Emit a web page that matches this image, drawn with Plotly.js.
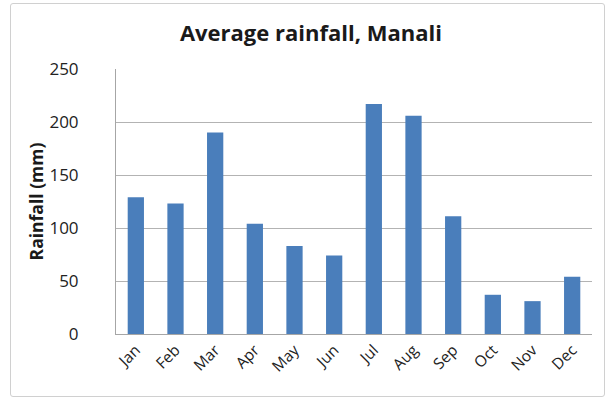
<!DOCTYPE html>
<html>
<head>
<meta charset="utf-8">
<script src="https://cdn.plot.ly/plotly-3.0.1.min.js"></script>
<style>
html,body{margin:0;padding:0;background:#fff;}
#wrap{position:relative;width:612px;height:403px;}
#chart{width:612px;height:403px;}
#frame{position:absolute;left:10px;top:3px;width:595px;height:394px;border:1.5px solid #d0d0d0;border-radius:3px;pointer-events:none;box-sizing:border-box;}
</style>
</head>
<body>
<div id="wrap"><div id="chart"></div><div id="frame"></div></div>
<script>
const months = ["Jan","Feb","Mar","Apr","May","Jun","Jul","Aug","Sep","Oct","Nov","Dec"];
const rainfall = [129, 123, 190, 104, 83, 74, 217, 206, 111, 37, 31, 54];
const yTicks = [0, 50, 100, 150, 200, 250];

const trace = {
  type: 'bar',
  x: months,
  y: rainfall,
  marker: {color: '#4a7ebb'},
  hoverinfo: 'x+y'
};

const layout = {
  width: 612, height: 403,
  margin: {l: 116, r: 20, t: 69, b: 69},
  paper_bgcolor: '#fff',
  plot_bgcolor: '#fff',
  bargap: 0.59,
  showlegend: false,
  font: {family: 'Open Sans, sans-serif', color: '#222'},
  title: {
    text: '<b>Average rainfall, Manali</b>',
    font: {size: 22, color: '#1a1a1a', family: 'Open Sans, sans-serif'},
    x: 0.508, xanchor: 'center', y: 0.918, yanchor: 'middle'
  },
  xaxis: {
    tickangle: -45,
    tickfont: {size: 15.5, color: '#222'},
    showline: true, linecolor: '#a6a6a6', linewidth: 1,
    showgrid: false, ticks: '', fixedrange: true
  },
  yaxis: {
    range: [0, 250],
    tickvals: yTicks,
    tickfont: {size: 17, color: '#222'},
    showline: true, linecolor: '#a6a6a6', linewidth: 1,
    showgrid: true, gridcolor: '#b3b3b3', gridwidth: 1,
    zeroline: false,
    ticks: 'outside', ticklen: 0, ticklabelstandoff: 33,
    title: {text: '<b>Rainfall (mm)</b>', font: {size: 17.5, color: '#1a1a1a'}, standoff: 1},
    fixedrange: true
  }
};

Plotly.newPlot('chart', [trace], layout, {displayModeBar: false, staticPlot: true});
</script>
</body>
</html>
